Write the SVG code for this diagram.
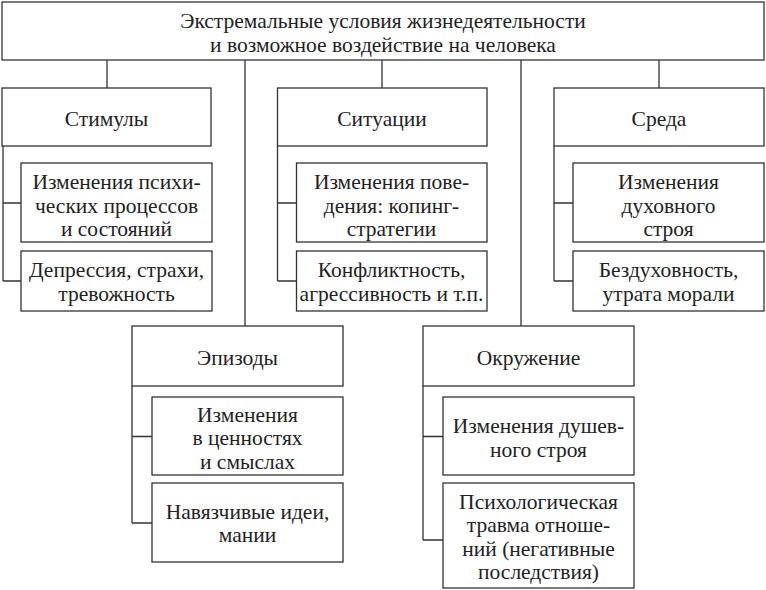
<svg xmlns="http://www.w3.org/2000/svg" width="766" height="590" viewBox="0 0 766 590">
<style>
rect{fill:#fff;stroke:#333;stroke-width:1.3}
.c path{fill:none;stroke:#333;stroke-width:1.3}
text{font-family:'Liberation Serif','Times New Roman',serif;font-size:21.5px;fill:#222;text-anchor:middle}
</style>
<rect x="0" y="0" width="766" height="590" style="stroke:none"/>
<g class="c" id="connectors">
<path d="M107 60V88M382 60V88M659 60V88M245 60V326M521 60V326"/>
<path d="M3 146V281M3 203H21M3 281H21"/>
<path d="M277.5 146V281M277.5 203H296.5M277.5 281H296.5"/>
<path d="M554 146V281M554 203H573M554 281H573"/>
<path d="M132 386V523M132 436.5H152M132 523H152"/>
<path d="M423 386V540M423 436.5H443M423 540H443"/>
</g>
<g id="top"><rect x="2" y="2" width="762" height="58"/><text x="383" y="28">Экстремальные условия жизнедеятельности</text><text x="383" y="51.5">и возможное воздействие на человека</text></g>
<g id="stimuly"><rect x="2" y="88" width="209" height="58"/><text x="106.5" y="126">Стимулы</text></g>
<g id="stimuly-1"><rect x="21" y="163" width="191" height="79"/><text x="116.5" y="189">Изменения психи-</text><text x="116.5" y="212.5">ческих процессов</text><text x="116.5" y="236">и состояний</text></g>
<g id="stimuly-2"><rect x="21" y="251" width="191" height="60"/><text x="116.5" y="277">Депрессия, страхи,</text><text x="116.5" y="300.5">тревожность</text></g>
<g id="situacii"><rect x="277.5" y="88" width="209.5" height="58"/><text x="382" y="126">Ситуации</text></g>
<g id="situacii-1"><rect x="296.5" y="163" width="190.5" height="79"/><text x="391.5" y="189">Изменения пове-</text><text x="391.5" y="212.5">дения: копинг-</text><text x="391.5" y="236">стратегии</text></g>
<g id="situacii-2"><rect x="296.5" y="251" width="190.5" height="60"/><text x="391.5" y="277">Конфликтность,</text><text x="391.5" y="300.5">агрессивность и т.п.</text></g>
<g id="sreda"><rect x="554" y="88" width="210" height="58"/><text x="659" y="126">Среда</text></g>
<g id="sreda-1"><rect x="573" y="163" width="191" height="79"/><text x="668.5" y="189">Изменения</text><text x="668.5" y="212.5">духовного</text><text x="668.5" y="236">строя</text></g>
<g id="sreda-2"><rect x="573" y="251" width="191" height="60"/><text x="668.5" y="277">Бездуховность,</text><text x="668.5" y="300.5">утрата морали</text></g>
<g id="epizody"><rect x="132" y="326" width="211" height="60"/><text x="237.5" y="365">Эпизоды</text></g>
<g id="epizody-1"><rect x="152" y="397" width="191" height="78"/><text x="247.5" y="421.5">Изменения</text><text x="247.5" y="445">в ценностях</text><text x="247.5" y="468.5">и смыслах</text></g>
<g id="epizody-2"><rect x="152" y="483" width="191" height="79"/><text x="247.5" y="518.5">Навязчивые идеи,</text><text x="247.5" y="542">мании</text></g>
<g id="okruzhenie"><rect x="423" y="326" width="211" height="60"/><text x="528.5" y="365">Окружение</text></g>
<g id="okruzhenie-1"><rect x="443" y="397" width="191" height="78"/><text x="538.5" y="433">Изменения душев-</text><text x="538.5" y="456.5">ного строя</text></g>
<g id="okruzhenie-2"><rect x="443" y="483" width="191" height="105"/><text x="538.5" y="508.5">Психологическая</text><text x="538.5" y="532">травма отноше-</text><text x="538.5" y="555.5">ний (негативные</text><text x="538.5" y="579">последствия)</text></g>
</svg>
